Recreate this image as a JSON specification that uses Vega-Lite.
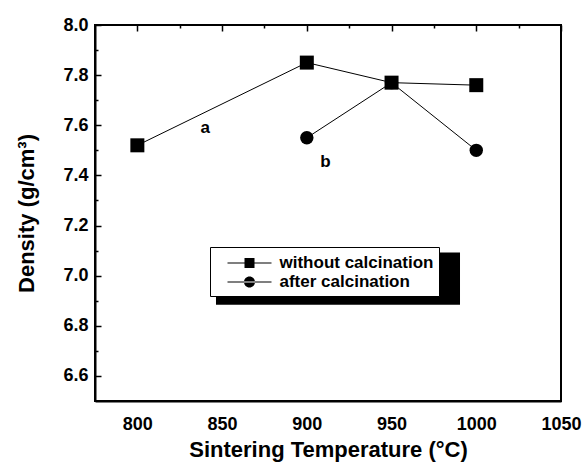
{
  "$schema": "https://vega.github.io/schema/vega-lite/v6.json",
  "autosize": "none",
  "width": 466,
  "height": 376,
  "padding": {"left": 95, "top": 25, "right": 24, "bottom": 64},
  "background": "white",
  "config": {
    "view": {"stroke": "black", "strokeWidth": 2},
    "font": "Liberation Sans",
    "axis": {"grid": false, "domainColor": "black", "domainWidth": 2, "tickColor": "black", "tickWidth": 1.5,
      "labelFont": "Liberation Sans", "labelFontWeight": "bold", "labelFontSize": 18, "labelColor": "black",
      "labelOverlap": false, "labelFlush": false,
      "titleFont": "Liberation Sans", "titleFontWeight": "bold", "titleFontSize": 22, "titleColor": "black"}
  },
  "resolve": {"axis": {"x": "independent", "y": "independent"}},
  "datasets": {
    "density": [
      {"temp": 800, "density": 7.52, "series": "without calcination"},
      {"temp": 900, "density": 7.85, "series": "without calcination"},
      {"temp": 950, "density": 7.77, "series": "without calcination"},
      {"temp": 1000, "density": 7.76, "series": "without calcination"},
      {"temp": 900, "density": 7.55, "series": "after calcination"},
      {"temp": 950, "density": 7.77, "series": "after calcination"},
      {"temp": 1000, "density": 7.50, "series": "after calcination"}
    ],
    "notes": [
      {"temp": 840, "density": 7.59, "label": "a"},
      {"temp": 911, "density": 7.455, "label": "b"}
    ]
  },
  "layer": [
    {
      "data": {"values": [{}]},
      "mark": {"type": "rect", "color": "black"},
      "encoding": {
        "x": {"datum": 846.4, "type": "quantitative", "axis": null},
        "x2": {"datum": 990.4},
        "y": {"datum": 7.092, "type": "quantitative", "axis": null},
        "y2": {"datum": 6.884}
      }
    },
    {
      "data": {"name": "density"},
      "mark": {"type": "line", "color": "black", "strokeWidth": 1},
      "encoding": {
        "x": {"field": "temp", "type": "quantitative",
          "scale": {"domain": [775, 1050], "nice": false, "zero": false},
          "axis": {"orient": "bottom", "title": "Sintering Temperature (°C)", "values": [800, 850, 900, 950, 1000, 1050],
            "format": "d", "ticks": false, "labelPadding": 14, "titlePadding": 6}},
        "y": {"field": "density", "type": "quantitative",
          "scale": {"domain": [6.5, 8.0], "nice": false, "zero": false},
          "axis": {"orient": "left", "title": "Density (g/cm³)", "values": [6.6, 6.8, 7.0, 7.2, 7.4, 7.6, 7.8, 8.0],
            "format": ".1f", "ticks": false, "labelPadding": 7, "titlePadding": 24}},
        "detail": {"field": "series"}
      }
    },
    {
      "data": {"name": "density"},
      "transform": [{"filter": "datum.series == 'without calcination'"}],
      "mark": {"type": "point", "shape": "square", "filled": true, "color": "black", "opacity": 1, "size": 196},
      "encoding": {
        "x": {"field": "temp", "type": "quantitative",
          "axis": {"orient": "bottom", "title": null, "labels": false, "domain": false, "ticks": false,
            "grid": true, "gridColor": "black", "gridWidth": 1.5, "gridDash": [6, 2000], "gridOpacity": 1,
            "values": [800, 850, 900, 950, 1000, 1050]}},
        "y": {"field": "density", "type": "quantitative",
          "axis": {"orient": "left", "title": null, "labels": false, "domain": false, "ticks": false,
            "grid": true, "gridColor": "black", "gridWidth": 1.5, "gridDash": [6, 2000], "gridOpacity": 1,
            "values": [6.6, 6.8, 7.0, 7.2, 7.4, 7.6, 7.8, 8.0]}}
      }
    },
    {
      "data": {"name": "density"},
      "transform": [{"filter": "datum.series == 'after calcination'"}],
      "mark": {"type": "point", "shape": "circle", "filled": true, "color": "black", "opacity": 1, "size": 180},
      "encoding": {
        "x": {"field": "temp", "type": "quantitative",
          "axis": {"orient": "bottom", "title": null, "labels": false, "domain": false, "ticks": false,
            "grid": true, "gridColor": "black", "gridWidth": 1.5, "gridDash": [3, 2000], "gridOpacity": 1,
            "values": [825, 875, 925, 975, 1025]}},
        "y": {"field": "density", "type": "quantitative",
          "axis": {"orient": "left", "title": null, "labels": false, "domain": false, "ticks": false,
            "grid": true, "gridColor": "black", "gridWidth": 1.5, "gridDash": [3, 2000], "gridOpacity": 1,
            "values": [6.7, 6.9, 7.1, 7.3, 7.5, 7.7, 7.9]}}
      }
    },
    {
      "data": {"name": "density"},
      "transform": [{"filter": "false"}],
      "mark": {"type": "point", "filled": true, "color": "black", "opacity": 1},
      "encoding": {
        "shape": {"field": "series", "type": "nominal",
          "scale": {"domain": ["without calcination", "after calcination"],
            "range": ["M-2.2,-0.05H2.2V0.05H-2.2ZM-0.5,-0.5H0.5V0.5H-0.5Z", "M-2.2,-0.05H2.2V0.05H-2.2ZM-0.55,0A0.55,0.55 0 1,0 0.55,0A0.55,0.55 0 1,0 -0.55,0Z"]},
          "legend": {"title": null, "orient": "none", "legendX": 115, "legendY": 222,
            "fillColor": "white", "strokeColor": "black", "padding": 5,
            "symbolSize": 400, "symbolFillColor": "black",
            "symbolOffset": 23.5,
            "labelExpr": "datum.label + '\u00a0\u00a0\u00a0'",
            "labelFont": "Liberation Sans", "labelFontWeight": "bold", "labelFontSize": 17, "labelColor": "black",
            "labelOffset": 19, "rowPadding": -1}}
      }
    },
    {
      "data": {"name": "notes"},
      "mark": {"type": "text", "font": "Liberation Sans", "fontWeight": "bold", "fontSize": 17, "color": "black"},
      "encoding": {
        "x": {"field": "temp", "type": "quantitative", "axis": null},
        "y": {"field": "density", "type": "quantitative", "axis": null},
        "text": {"field": "label"}
      }
    }
  ]
}
